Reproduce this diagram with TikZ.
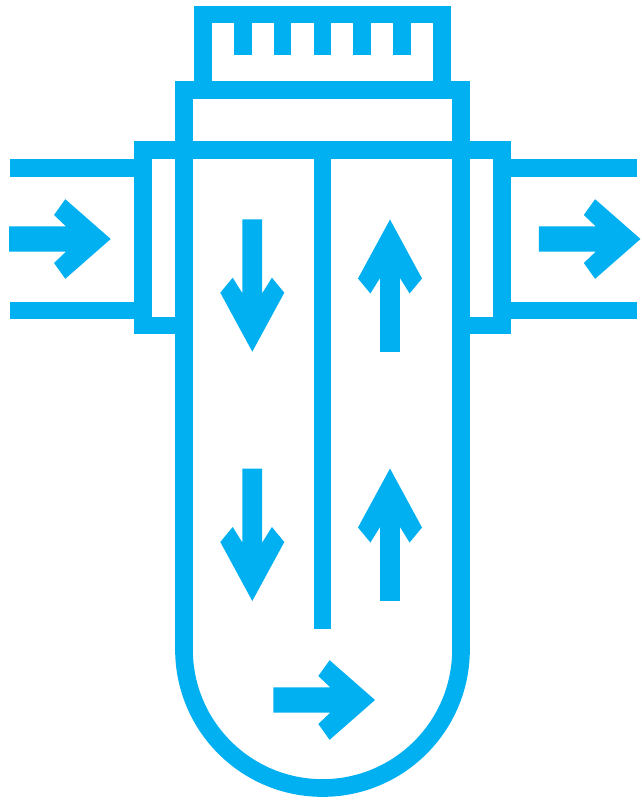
\documentclass[tikz,border=0pt]{standalone}
\definecolor{filterblue}{HTML}{00B0F0}
\tikzset{
  wall/.style={draw=filterblue,line width=17.7pt,line join=miter,line cap=butt},
  wide arrow/.pic={\fill[filterblue] (0,0)--(-45.4,39.8)--(-56.7,24)--(-44.7,12.6)--(-101.7,12.6)--(-101.7,-12.6)--(-44.7,-12.6)--(-56.7,-24)--(-45.4,-39.8)--cycle;},
  tall arrow/.pic={\fill[filterblue] (0,0)--(-59,32)--(-74,19.6)--(-58.4,9.9)--(-132.4,9.9)--(-132.4,-9.9)--(-58.4,-9.9)--(-74,-19.6)--(-59,-32)--cycle;}
}
\begin{document}
\begin{tikzpicture}[x=1pt,y=-1pt]
\useasboundingbox (0,0) rectangle (641,802);
% cap
\draw[wall] (203,90) -- (203,14.5) -- (442,14.5) -- (442,90);
\foreach \tx in {242.7,282.5,322.5,362.3,402}
  \draw[wall] (\tx,14.5) -- (\tx,54.7);
% body
\draw[wall] (184,90) -- (461,90) -- (461,649.5) .. controls (461,726) and (399,788) .. (322.5,788) .. controls (246,788) and (184,726) .. (184,649.5) -- cycle;
% flange and side boxes
\draw[wall] (184,325.5) -- (143,325.5) -- (143,150) -- (502,150) -- (502,325.5) -- (461,325.5);
% divider
\draw[wall] (322.5,150) -- (322.5,628.7);
% pipes
\draw[wall] (10.3,167.7) -- (143,167.7);
\draw[wall] (10.3,310.5) -- (143,310.5);
\draw[wall] (502,167.7) -- (637,167.7);
\draw[wall] (502,310.5) -- (637,310.5);
% arrows
\pic at (110.7,239) {wide arrow};
\pic at (640.5,239) {wide arrow};
\pic at (375,700) {wide arrow};
\pic[rotate=-90] at (252.3,351.7) {tall arrow};
\pic[rotate=-90] at (252.3,601) {tall arrow};
\pic[rotate=90] at (390,219.5) {tall arrow};
\pic[rotate=90] at (390,468.5) {tall arrow};
\end{tikzpicture}
\end{document}
